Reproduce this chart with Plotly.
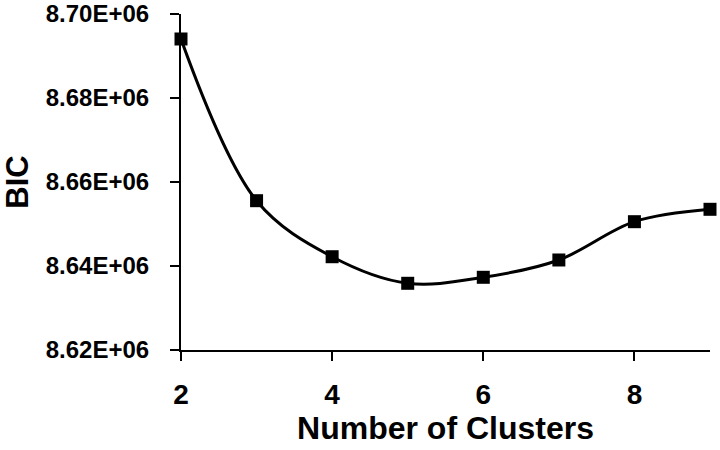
import plotly.graph_objects as go

clusters = [2, 3, 4, 5, 6, 7, 8, 9]
bic = [8.69405e6, 8.65555e6, 8.64221e6, 8.63588e6, 8.63731e6, 8.64143e6, 8.65055e6, 8.6535e6]
y_tickvals = [8.62e6, 8.64e6, 8.66e6, 8.68e6, 8.70e6]
y_ticktext = ["8.62E+06", "8.64E+06", "8.66E+06", "8.68E+06", "8.70E+06"]
x_tickvals = [2, 4, 6, 8]

fig = go.Figure(go.Scatter(
    x=clusters, y=bic, mode="lines+markers",
    line=dict(color="black", width=3, shape="spline", smoothing=1.0),
    marker=dict(symbol="square", size=13, color="black"),
    cliponaxis=False,
))

FAM = "Liberation Sans, Arial"
fig.update_layout(
    width=720, height=450,
    margin=dict(l=181, r=10, t=14, b=100, autoexpand=False),
    plot_bgcolor="white", paper_bgcolor="white",
    showlegend=False,
    font=dict(family=FAM, color="black"),
)
fig.update_xaxes(
    range=[2, 9], tickvals=x_tickvals, ticks="outside", ticklen=9, tickwidth=2,
    tickcolor="black", showline=True, linecolor="black", linewidth=2,
    showgrid=False, zeroline=False, ticklabelstandoff=9, automargin=False,
    ticklabeloverflow="allow",
    tickfont=dict(size=28, family=FAM, color="black", weight="bold"),
    title=dict(text="<b>Number of Clusters</b>", font=dict(size=32, family=FAM, color="black"), standoff=8),
)
fig.update_yaxes(
    range=[8.62e6, 8.70e6], tickvals=y_tickvals, ticktext=y_ticktext,
    ticks="outside", ticklen=9, tickwidth=2, tickcolor="black",
    showline=True, linecolor="black", linewidth=2,
    showgrid=False, zeroline=False, ticklabelstandoff=16, automargin=False,
    ticklabeloverflow="allow",
    tickfont=dict(size=24, family=FAM, color="black", weight="bold"),
    title=dict(text="<b>BIC</b>", font=dict(size=31, family=FAM, color="black"), standoff=12),
)
fig.write_html(
    "out.html",
    config={"displayModeBar": False},
    post_script="document.body.style.margin='0';document.body.style.overflow='hidden';",
)
